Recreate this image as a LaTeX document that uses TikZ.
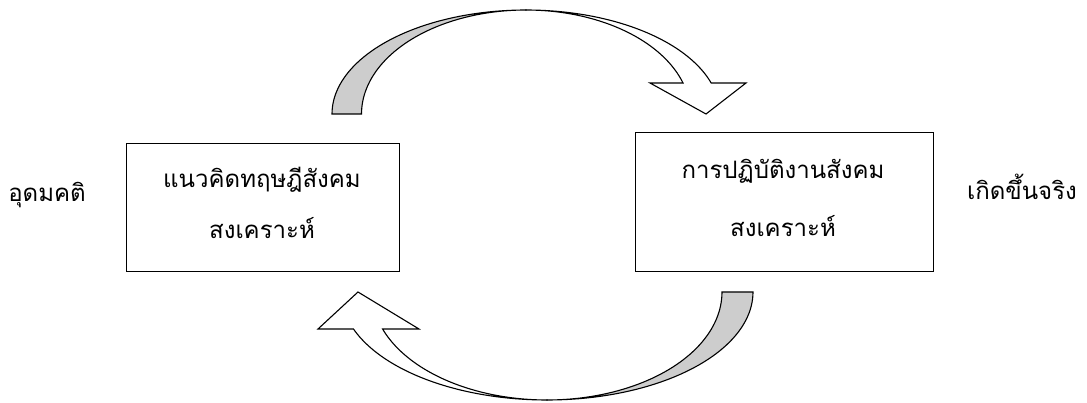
\documentclass[tikz,border=0pt]{standalone}
\usepackage{fontspec}
\newfontfamily\thaifont[Script=Thai]{Loma}
\definecolor{backgray}{RGB}{205,205,205}
\tikzset{
  x=1pt,y=-1pt,
  box/.style={draw,line width=1.2pt},
  blockarrow/.style={draw,line width=1.1pt,line join=miter},
  thaitext/.style={font=\thaifont\fontsize{24}{28}\selectfont,anchor=base,inner sep=0pt}
}
\begin{document}
\begin{tikzpicture}
\useasboundingbox (0,0) rectangle (1087,403);
% boxes
\node[box,minimum width=273pt,minimum height=128pt,anchor=north west] (L) at (126,143) {};
\node[box,minimum width=298pt,minimum height=139pt,anchor=north west] (R) at (635,132) {};
% texts
\node[thaitext] (l1) at (262,188) {แนวคิดทฤษฎีสังคม};
\node[thaitext] (l2) at (262,239) {สงเคราะห์};
\node[thaitext] (r1) at (783,179) {การปฏิบัติงานสังคม};
\node[thaitext] (r2) at (783,237) {สงเคราะห์};
\node[thaitext] (ideal) at (47,202) {อุดมคติ};
\node[thaitext] (real) at (1022,200) {เกิดขึ้นจริง};
% top curved arrow: back face
\fill[backgray] plot[domain=180:270,samples=50] ({526+194*cos(\x)},{114+104*sin(\x)})
  -- plot[domain=270:180,samples=50] ({526+164.5*cos(\x)},{114+104*sin(\x)}) -- cycle;
\draw[blockarrow] plot[domain=180:270,samples=50] ({526+194*cos(\x)},{114+104*sin(\x)})
  -- plot[domain=270:180,samples=50] ({526+164.5*cos(\x)},{114+104*sin(\x)}) -- cycle;
% top curved arrow: front face with head
\filldraw[blockarrow,fill=white] plot[domain=270:342.66,samples=50] ({526+194*cos(\x)},{114+104*sin(\x)})
  -- (746,83) -- (706,114) -- (650,83)
  -- plot[domain=342.66:270,samples=50] ({526+164.5*cos(\x)},{114+104*sin(\x)}) -- cycle;
% bottom curved arrow: back face
\fill[backgray] plot[domain=0:90,samples=50] ({547+206*cos(\x)},{292+108*sin(\x)})
  -- plot[domain=90:0,samples=50] ({547+175*cos(\x)},{292+108*sin(\x)}) -- cycle;
\draw[blockarrow] plot[domain=0:90,samples=50] ({547+206*cos(\x)},{292+108*sin(\x)})
  -- plot[domain=90:0,samples=50] ({547+175*cos(\x)},{292+108*sin(\x)}) -- cycle;
% bottom curved arrow: front face with head
\filldraw[blockarrow,fill=white] plot[domain=90:159.97,samples=50] ({547+206*cos(\x)},{292+108*sin(\x)})
  -- (318,329) -- (358,292) -- (419,329)
  -- plot[domain=159.97:90,samples=50] ({547+175*cos(\x)},{292+108*sin(\x)}) -- cycle;
\end{tikzpicture}
\end{document}
